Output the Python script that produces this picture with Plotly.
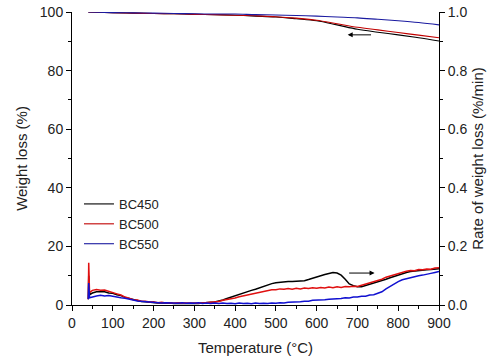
import plotly.graph_objects as go

# ---- Weight loss (%) curves (left axis) ----
wt_temp = [40, 100, 150, 200, 250, 300, 350, 400, 450, 500, 550, 600, 650, 700, 750, 800, 850, 900]
wt_bc450 = [100.0, 99.8, 99.6, 99.5, 99.4, 99.2, 99.1, 98.9, 98.6, 98.3, 97.7, 97.0, 95.6, 94.1, 93.1, 92.2, 91.2, 90.1]
wt_bc500 = [100.0, 99.8, 99.6, 99.5, 99.4, 99.2, 99.1, 98.9, 98.7, 98.4, 97.9, 97.2, 96.0, 94.8, 93.9, 93.0, 92.1, 91.2]
wt_bc550 = [100.0, 99.8, 99.7, 99.6, 99.5, 99.4, 99.3, 99.3, 99.1, 99.0, 98.8, 98.6, 98.3, 98.0, 97.5, 97.0, 96.4, 95.6]

# ---- Rate of weight loss (%/min) curves (right axis) ----
rate_temp = [40, 41, 43, 50, 60, 70, 80, 90, 100, 110, 120, 130, 140, 150, 160, 170, 180, 190,
             200, 210, 220, 230, 240, 250, 260, 270, 280, 290, 300, 310, 320, 330, 340, 350,
             360, 370, 380, 390, 400, 410, 420, 430, 440, 450, 460, 470, 480, 490, 500, 510,
             520, 530, 540, 550, 560, 570, 580, 590, 600, 610, 620, 630, 640, 650, 660, 670,
             680, 690, 700, 710, 720, 730, 740, 750, 760, 770, 780, 790, 800, 810, 820, 830,
             840, 850, 860, 870, 880, 890, 900]
rate_bc450 = [0.020, 0.100, 0.035, 0.041, 0.045, 0.044, 0.045, 0.041, 0.040, 0.035, 0.032, 0.026, 0.022, 0.018, 0.016, 0.012, 0.011, 0.009,
              0.009, 0.007, 0.008, 0.006, 0.007, 0.005, 0.006, 0.005, 0.006, 0.005, 0.006, 0.005, 0.007, 0.007, 0.009, 0.010,
              0.013, 0.017, 0.022, 0.027, 0.031, 0.036, 0.041, 0.046, 0.050, 0.054, 0.059, 0.064, 0.069, 0.073, 0.076, 0.078,
              0.079, 0.080, 0.080, 0.081, 0.082, 0.083, 0.087, 0.092, 0.096, 0.100, 0.104, 0.108, 0.111, 0.109, 0.102, 0.088,
              0.072, 0.066, 0.062, 0.062, 0.066, 0.070, 0.074, 0.078, 0.083, 0.088, 0.093, 0.098, 0.103, 0.108, 0.111, 0.114,
              0.116, 0.118, 0.119, 0.120, 0.121, 0.122, 0.124]
rate_bc500 = [0.020, 0.144, 0.042, 0.050, 0.053, 0.050, 0.051, 0.046, 0.043, 0.038, 0.034, 0.027, 0.023, 0.018, 0.017, 0.013, 0.013, 0.010,
              0.011, 0.008, 0.009, 0.007, 0.008, 0.006, 0.008, 0.006, 0.007, 0.006, 0.007, 0.006, 0.007, 0.008, 0.008, 0.011,
              0.012, 0.016, 0.018, 0.022, 0.024, 0.028, 0.031, 0.036, 0.038, 0.042, 0.044, 0.048, 0.049, 0.052, 0.052, 0.055,
              0.054, 0.056, 0.054, 0.057, 0.055, 0.058, 0.056, 0.059, 0.057, 0.060, 0.058, 0.061, 0.059, 0.062, 0.060, 0.063,
              0.062, 0.064, 0.063, 0.067, 0.070, 0.075, 0.078, 0.084, 0.088, 0.095, 0.099, 0.105, 0.108, 0.113, 0.115, 0.118,
              0.117, 0.121, 0.120, 0.123, 0.122, 0.126, 0.127]
rate_bc550 = [0.020, 0.075, 0.025, 0.028, 0.031, 0.033, 0.031, 0.032, 0.029, 0.028, 0.025, 0.023, 0.019, 0.017, 0.014, 0.013, 0.010, 0.010,
              0.008, 0.009, 0.007, 0.008, 0.007, 0.008, 0.006, 0.008, 0.006, 0.007, 0.006, 0.008, 0.005, 0.007, 0.005, 0.007,
              0.005, 0.007, 0.005, 0.006, 0.004, 0.007, 0.005, 0.006, 0.004, 0.007, 0.005, 0.006, 0.005, 0.007, 0.006, 0.008,
              0.007, 0.009, 0.009, 0.011, 0.011, 0.013, 0.013, 0.016, 0.016, 0.018, 0.018, 0.020, 0.020, 0.022, 0.022, 0.025,
              0.024, 0.027, 0.027, 0.030, 0.030, 0.034, 0.035, 0.040, 0.045, 0.055, 0.064, 0.073, 0.080, 0.086, 0.090, 0.094,
              0.096, 0.100, 0.102, 0.106, 0.108, 0.111, 0.114]

series_names = ["BC450", "BC500", "BC550"]
colors_wt = ["#000000", "#c00000", "#1a1aa0"]
colors_rate = ["#000000", "#e01010", "#1010d0"]

x_ticks = [0, 100, 200, 300, 400, 500, 600, 700, 800, 900]
yl_ticks = [0, 20, 40, 60, 80, 100]
yr_ticks = [0.0, 0.2, 0.4, 0.6, 0.8, 1.0]
yr_labels = ["0.0", "0.2", "0.4", "0.6", "0.8", "1.0"]

fig = go.Figure()

wts = [wt_bc450, wt_bc500, wt_bc550]
rates = [rate_bc450, rate_bc500, rate_bc550]

for i in range(3):
    fig.add_trace(go.Scatter(x=rate_temp, y=rates[i], mode="lines", yaxis="y2",
                             line=dict(color=colors_rate[i], width=1.5), showlegend=False))
for i in range(3):
    fig.add_trace(go.Scatter(x=wt_temp, y=wts[i], mode="lines", name=series_names[i],
                             line=dict(color=colors_wt[i], width=1.1), line_shape="spline"))

font = "Liberation Sans, Arial, sans-serif"
fig.update_layout(
    width=494, height=362,
    margin=dict(l=72, r=55, t=12, b=57),
    paper_bgcolor="white", plot_bgcolor="white",
    font=dict(family=font, size=14, color="#222"),
    showlegend=True,
    legend=dict(x=0.019, y=0.396, xanchor="left", yanchor="top", bgcolor="rgba(0,0,0,0)",
                font=dict(size=13, color="#222"), tracegroupgap=0, itemwidth=30),
    xaxis=dict(range=[0, 900], tickvals=x_ticks, ticks="outside", ticklen=5, tickcolor="black",
               showline=True, linecolor="black", linewidth=1, showgrid=False, zeroline=False,
               automargin=False,
               minor=dict(dtick=50, tick0=0, ticks="outside", ticklen=3, tickcolor="black"),
               title=dict(text="Temperature (°C)", font=dict(size=15), standoff=12),
               tickfont=dict(size=14)),
    yaxis=dict(range=[0, 100], tickvals=yl_ticks, ticks="outside", ticklen=5, tickcolor="black",
               showline=True, linecolor="black", linewidth=1, showgrid=False, zeroline=False,
               automargin=False,
               minor=dict(dtick=10, tick0=0, ticks="outside", ticklen=3, tickcolor="black"),
               title=dict(text="Weight loss (%)", font=dict(size=15), standoff=8),
               tickfont=dict(size=14)),
    yaxis2=dict(range=[0, 1], overlaying="y", side="right", tickvals=yr_ticks, ticktext=yr_labels,
                ticks="outside", ticklen=5, tickcolor="black",
                showline=True, linecolor="black", linewidth=1, showgrid=False, zeroline=False,
                automargin=False,
                minor=dict(dtick=0.1, tick0=0, ticks="outside", ticklen=3, tickcolor="black"),
                title=dict(text="Rate of weight loss (%/min)", font=dict(size=15), standoff=6),
                tickfont=dict(size=14)),
)

fig.add_annotation(x=676, y=92.2, ax=737, ay=92.2, xref="x", yref="y", axref="x", ayref="y",
                   text="", showarrow=True, arrowhead=2, arrowsize=1, arrowwidth=1, arrowcolor="black")
fig.add_annotation(x=742, y=10.9, ax=676, ay=10.9, xref="x", yref="y", axref="x", ayref="y",
                   text="", showarrow=True, arrowhead=2, arrowsize=1, arrowwidth=1, arrowcolor="black")

fig.write_html("out.html", config={"displayModeBar": False},
               post_script="document.body.style.margin='0';")
